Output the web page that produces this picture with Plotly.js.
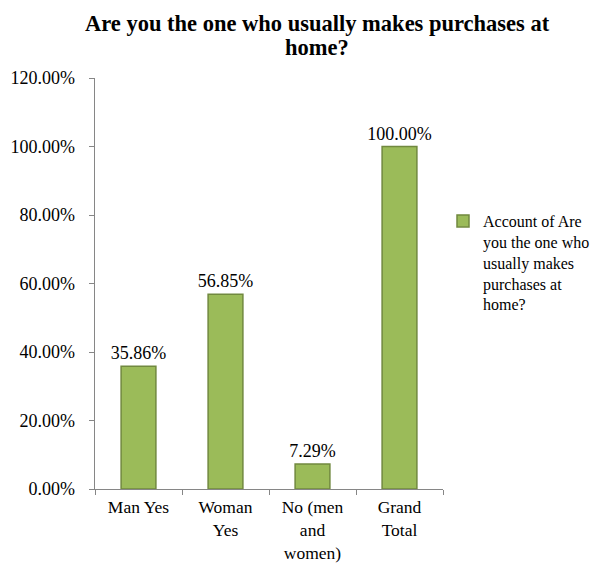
<!DOCTYPE html>
<html>
<head>
<meta charset="utf-8">
<script src="https://cdn.plot.ly/plotly-3.0.1.min.js"></script>
<style>html,body{margin:0;padding:0;background:#fff;}#chart{width:605px;height:563px;}</style>
</head>
<body>
<div id="chart"></div>
<script>
var categories = ["Man Yes", "Woman<br>Yes", "No (men<br>and<br>women)", "Grand<br>Total"];
var values = [0.3586, 0.5685, 0.0729, 1.0];
var seriesName = "Account of Are<br>you the one who<br>usually makes<br>purchases at<br>home?";
var titleLines = ["Are you the one who usually makes purchases at", "home?"];
var yTickVals = [0, 0.2, 0.4, 0.6, 0.8, 1.0, 1.2];

var font = "Liberation Serif";
var trace = {
  type: "bar",
  x: categories,
  y: values,
  name: seriesName,
  width: 0.4,
  marker: {color: "#9BBB59", line: {color: "#71893F", width: 1.5}},
  texttemplate: "%{y:.2%}",
  textposition: "outside",
  constraintext: "none",
  textfont: {family: font, size: 18, color: "#000"},
  cliponaxis: false,
  showlegend: true,
  hoverinfo: "none"
};
var titleY = [1.1314, 1.0754];
var layout = {
  width: 605, height: 563,
  margin: {l: 95, r: 160, t: 78, b: 74},
  paper_bgcolor: "#fff", plot_bgcolor: "#fff",
  font: {family: font, size: 17.5, color: "#000"},
  annotations: titleLines.map(function (t, i) {
    return {
      text: "<b>" + t + "</b>", xref: "paper", yref: "paper",
      x: 0.6386, y: titleY[i], xanchor: "center", yanchor: "middle", showarrow: false,
      font: {family: font, size: 22.5, color: "#000"}
    };
  }),
  xaxis: {
    type: "category", showline: true, linecolor: "#868686", linewidth: 1.3,
    ticks: "outside", tickson: "boundaries", ticklen: 5, tickcolor: "#868686",
    ticklabelstandoff: 2,
    showgrid: false, zeroline: false, tickfont: {family: font, size: 17.5, color: "#000"},
    automargin: false, fixedrange: true
  },
  yaxis: {
    range: [0, 1.2], tickvals: yTickVals, tickformat: ".2%",
    showline: true, linecolor: "#868686", linewidth: 1.3,
    ticks: "outside", ticklen: 5, tickcolor: "#868686",
    ticklabelstandoff: 10,
    showgrid: false, zeroline: false, tickfont: {family: font, size: 18, color: "#000"},
    automargin: false, fixedrange: true
  },
  showlegend: true,
  legend: {xref: "container", yref: "container", x: 443/605, xanchor: "left", y: 1 - 204/563, yanchor: "top", valign: "top",
           font: {family: font, size: 16, color: "#000"}, bgcolor: "rgba(0,0,0,0)"},
  bargap: 0.6
};
Plotly.newPlot("chart", [trace], layout, {staticPlot: true, displayModeBar: false});
</script>
</body>
</html>
